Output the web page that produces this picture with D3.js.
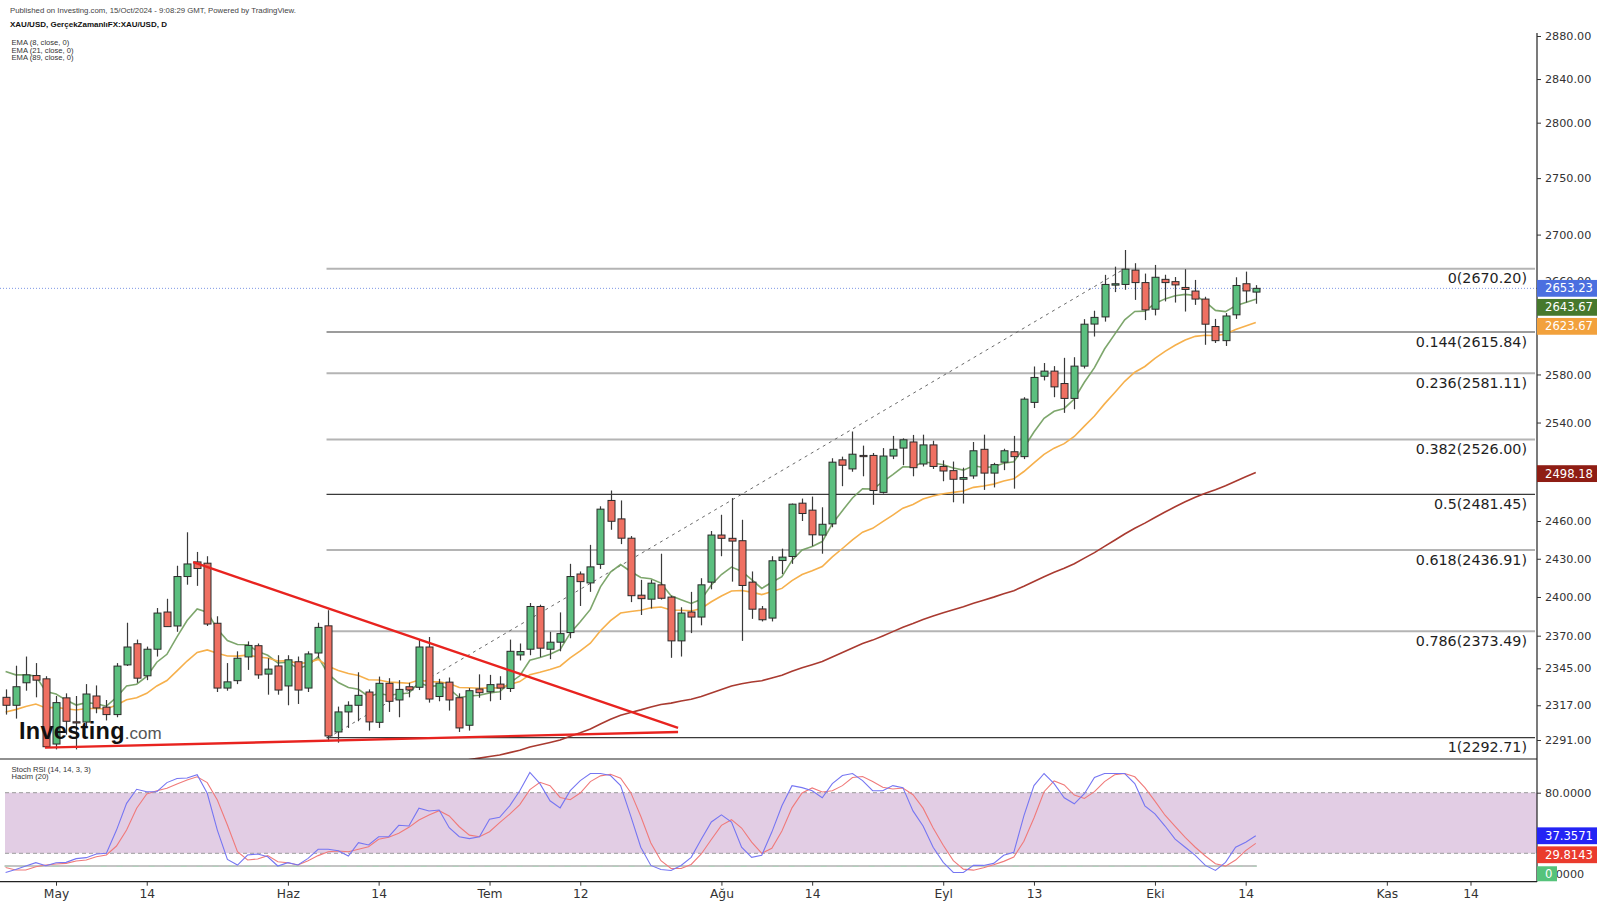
<!DOCTYPE html>
<html><head><meta charset="utf-8">
<script src="https://cdn.jsdelivr.net/npm/d3@7"></script>
<style>body{margin:0;background:#fff}svg{display:block}</style>
</head><body>
<svg id="c" width="1600" height="906"></svg>
<script>
// ---------------- DATA ----------------
const opens = [2323,2317,2334,2339.5,2337,2288,2322.6,2304.6,2304.4,2324,2315.6,2310,2347.6,2363.8,2339.3,2359.6,2388.3,2377.5,2416,2427.5,2426.5,2379.6,2330,2335.6,2353.7,2362.3,2340.6,2346.8,2331.6,2350,2330,2356.7,2377.6,2297,2312,2317,2327,2304.2,2333.6,2321,2331,2330.6,2361.3,2323.6,2334.5,2322.7,2302,2329.3,2327.2,2333,2329.7,2355.2,2359.6,2392.6,2359.6,2365,2372.4,2418,2411,2425.6,2476.5,2461.7,2446.3,2401.4,2398.3,2409.5,2399.9,2366,2388.3,2384.4,2411.6,2448.8,2446.2,2444.3,2411.6,2390.7,2383.6,2428.6,2431.8,2474.3,2468.7,2448.8,2457.7,2509.4,2502,2513,2513,2483,2512.5,2519,2524,2506,2521.6,2504,2500.6,2493.6,2496.3,2518,2498.6,2507.5,2516,2512,2556.7,2578.5,2582.8,2572.4,2560,2587,2622.6,2628.7,2656,2656.6,2669,2658.2,2635.3,2661,2659,2654,2650.9,2644,2620.5,2608.5,2630.5,2657.2,2650];
const highs = [2329,2347,2354,2349,2339,2324,2326,2324,2333,2332,2321,2349,2380,2367,2361.6,2391.4,2398.6,2424.5,2451,2435.4,2432,2385,2349,2358,2365.6,2364,2352.7,2355,2355,2354,2358,2380,2389.7,2316,2320,2342,2329,2338.7,2337.5,2336,2334,2367,2369,2337,2338,2326,2330,2340.4,2340,2339,2367,2364,2395.3,2394,2373,2388,2426,2420,2441,2471.8,2484.5,2476.5,2448,2413.4,2413.4,2434,2401,2392,2404,2414.7,2452,2465,2478.4,2461,2420,2393,2432,2438,2474,2478,2479.6,2471,2510.7,2512,2532.6,2521,2515,2519,2529,2527,2529.8,2530,2525,2509,2508,2503,2524,2530,2507,2518.5,2529,2561,2586.7,2589.6,2587,2594,2594.5,2626.8,2634,2664.9,2672,2686.5,2675,2666,2673.5,2665,2663,2669.8,2660.5,2646,2627,2632,2662.8,2667.7,2656];
const lows = [2310,2307,2328,2323,2285,2284,2295,2284,2300,2311,2305.6,2308,2346.8,2334,2336,2354,2377,2373,2409.6,2408.7,2377.5,2327,2328,2333,2343.8,2337,2325,2325,2317,2318,2327,2353,2290,2289,2300,2305,2298,2300,2312,2308,2323,2328.5,2319,2320,2313,2297,2298,2322.7,2320,2321,2327,2351,2355,2353.5,2352,2358,2368,2393,2404,2422,2453,2441.6,2396,2386,2391,2398,2353,2354,2372,2378,2406,2432,2412,2366,2383,2381,2381,2418,2426,2460,2440,2434,2455,2488,2499.7,2496,2473,2482,2510,2505,2496,2504,2502,2492,2475,2474,2494,2485,2487,2501,2486,2510,2552,2575,2561,2548,2551,2585,2612,2624.7,2650,2652,2643.3,2626,2630,2642,2641,2633.3,2639,2605,2606.5,2604,2627,2641,2640];
const closes = [2317,2331,2340,2336,2286,2319,2305,2304,2325.5,2315,2310,2346.7,2361.3,2337.5,2359.6,2387.5,2377,2416,2425.9,2422.3,2379,2330,2334.7,2352.7,2362.5,2340,2344.4,2328.5,2351.5,2328.5,2356,2376.4,2294,2312,2317,2324.5,2304.5,2333.6,2320,2329,2328.6,2361.3,2321.7,2333.7,2321,2300,2328,2326.5,2332.6,2330,2358,2357.8,2392.6,2360.4,2365,2371.6,2416,2412,2423.6,2469.5,2459.8,2446.3,2401,2398.7,2410.8,2399,2366,2387.5,2384.4,2409.5,2448.8,2446.2,2444,2409,2390.5,2382.3,2428.4,2431.3,2473.5,2466,2449,2457.4,2507.5,2505,2514,2512,2484.5,2512.5,2518,2525.8,2503,2521.6,2504,2500.3,2493.6,2495,2516.8,2498.6,2505.5,2516.8,2512,2559.4,2577.5,2582.8,2569.6,2560,2587,2622.5,2628.3,2656.6,2657.2,2669.8,2658.2,2634.7,2662.8,2658.2,2656.2,2652.3,2644,2622.5,2608.5,2629.5,2655.7,2651,2653.23];

// EMA periods and their values at the first visible bar
const emaPeriods = [8, 21, 89];
const emaSeeds = [2342.6, 2312, 2165];
const emaColors = ["#6f9c5c", "#f6b04c", "#a93a30"];

// Stoch RSI (14,14,3,3): %K and %D
const stochK = [1,4,7.4,10.7,7.7,10.7,11,14.7,15.7,19.3,20,43,69.5,83.4,81,81,90,94,94.5,97.8,79.4,43,14,8.4,18.3,19.3,16.6,7.4,10.7,8.4,15,24,24,22.6,17.3,30.5,28.2,36.4,36.4,47.7,47,64.6,61.9,62.9,45.3,36.4,34.5,36.4,53.7,55.6,
  67,82,100,89,72,65,82,92,99,99,97,87,57,26,8,4,3,8,16,34,51,58,51,26,16,18,41,67,87,85,82,75,89,97,99,92,82,82,87,85,62,47,26,11,1,1,8,8,10,18,21,57,87,99,89,75,69,79,95,99,99,99,89,67,59,47,34,26,18,8,3,11,26,31,37.36];
const stochD = [6,3.5,3.5,6.7,8.4,9.4,10,12.4,13.4,16.6,18.3,27.2,43,64.6,78.7,82,84.4,88.6,92.6,95.8,90,72.8,48,21.6,13.4,14.4,17.7,11.7,10.7,8.4,12.7,17.7,21.6,22.3,21.6,24,26.5,33.9,35.8,39.8,45.7,53,57.9,62.2,57,46.3,38,36.4,41.4,50.3,
  58.8,68.2,83,90.3,87,75.3,73,79.7,91,96.7,98.3,94.3,80.3,56.7,30.3,12.7,5,5,9,19.3,33.7,47.7,53.3,45,31,20,25,42,65,79.7,84.7,80.7,82,87,95,96,91,85.3,83.7,84.7,78,64.7,45,28,12.7,4.3,3.3,5.7,8.7,12,16.3,32,55,81,91.7,87.7,77.7,74.3,81,91,97.7,99,95.7,85,71.7,57.7,46.7,35.7,26,17.3,9.7,7.3,13.3,22.7,29.81];

// Fibonacci retracement
const fibRatios = [0, 0.144, 0.236, 0.382, 0.5, 0.618, 0.786, 1];
const fibValues = [2670.20, 2615.84, 2581.11, 2526.00, 2481.45, 2436.91, 2373.49, 2292.71];
const fibLabels = ["0(2670.20)","0.144(2615.84)","0.236(2581.11)","0.382(2526.00)","0.5(2481.45)","0.618(2436.91)","0.786(2373.49)","1(2292.71)"];
const fibStartIndex = 32;
const fibAnchor = [[32, 2292.71], [111, 2670.20]];

// triangle trendlines [barIndex, price]
const trendTop = [[18.6, 2427.3], [66.7, 2300]];
const trendBottom = [[3.9, 2285.3], [66.7, 2297]];

// axes
const priceTicks = [2880,2840,2800,2750,2700,2660,2620,2580,2540,2500,2460,2430,2400,2370,2345,2317,2291];
const stochTicks = [80, 20, 0];
const xTickIndex = [5,14,28,37,48,57,71,80,93,102,114,123,137,145.3];
const xTickLabels = ["May","14","Haz","14","Tem","12","Ağu","14","Eyl","13","Eki","14","Kas","14"];

const lastPrice = 2653.23;
const priceBadges = [
  {text:"2653.23", value:2653.23, color:"#4b6fe0"},
  {text:"2643.67", value:2643.67, color:"#46782c"},
  {text:"2623.67", value:2623.67, color:"#f2a13c"},
  {text:"2498.18", value:2498.18, color:"#8e1d14"}
];
const stochBadges = [
  {text:"37.3571", value:37.3571, color:"#2424f5"},
  {text:"29.8143", value:29.8143, color:"#ea3b2d"}
];

// trading days (categories)
const dates = [];
for (let d = new Date(Date.UTC(2024,3,24)); dates.length < closes.length; d.setUTCDate(d.getUTCDate()+1)) {
  const wd = d.getUTCDay(); if (wd !== 0 && wd !== 6) dates.push(d.toISOString().slice(0,10));
}
const bars = dates.map((dt,i)=>({i, date:dt, o:opens[i], h:highs[i], l:lows[i], c:closes[i]}));

// ---------------- LAYOUT ----------------
const svg = d3.select("#c");
const AX = 1537;           // price axis x
const MAIN_BOTTOM = 759;
const STOCH_BOTTOM = 881.7;
const FONT = "'DejaVu Sans', Verdana, sans-serif";
const FONT2 = "'Liberation Sans', Arial, sans-serif";

const x = d3.scaleLinear().domain([0, 137]).range([5.6, 5.6 + 137*10.082]);
const y = d3.scaleLog().domain([2291, 2880]).range([740, 36]);
const ys = d3.scaleLinear().domain([0, 100]).range([873.5, 772.5]);

svg.append("rect").attr("width",1600).attr("height",906).attr("fill","#fff");

const defs = svg.append("defs");
defs.append("clipPath").attr("id","mainClip").append("rect").attr("x",0).attr("y",0).attr("width",AX).attr("height",MAIN_BOTTOM);
defs.append("clipPath").attr("id","stClip").append("rect").attr("x",0).attr("y",MAIN_BOTTOM+1).attr("width",AX).attr("height",STOCH_BOTTOM-MAIN_BOTTOM-1);

const main = svg.append("g").attr("clip-path","url(#mainClip)");

// last price dotted line
main.append("line").attr("x1",0).attr("x2",AX).attr("y1",y(lastPrice)).attr("y2",y(lastPrice))
  .attr("stroke","#7d97e6").attr("stroke-width",1).attr("stroke-dasharray","1,2");

// fib lines
const darkLevels = [0.144, 0.5, 1];
fibRatios.forEach((r,k)=>{
  const dark = darkLevels.includes(r);
  const yy = y(fibValues[k]);
  main.append("line").attr("x1",x(fibStartIndex)-1.7).attr("x2",1535).attr("y1",yy).attr("y2",yy)
    .attr("stroke", dark ? "#3a3a3a" : "#b4b4b4").attr("stroke-width", dark ? 1.2 : 2);
  main.append("text").attr("x",1527).attr("y",yy+14.5).attr("text-anchor","end")
    .attr("font-family",FONT).attr("font-size",14.3).attr("fill","#1e1e1e").text(fibLabels[k]);
});

// fib anchor dashed line
main.append("line").attr("x1",x(fibAnchor[0][0])).attr("y1",y(fibAnchor[0][1]))
  .attr("x2",x(fibAnchor[1][0])).attr("y2",y(fibAnchor[1][1]))
  .attr("stroke","#6a6a6a").attr("stroke-width",1).attr("stroke-dasharray","3,4");

// EMAs
function ema(vals, period, seed){
  const a = 2/(period+1); const out=[seed];
  for (let i=1;i<vals.length;i++) out.push(a*vals[i] + (1-a)*out[i-1]);
  return out;
}
const emaLine = d3.line().x((d,i)=>x(i)).y(d=>y(d));
emaPeriods.forEach((p,k)=>{
  const vals = ema(closes, p, emaSeeds[k]);
  main.append("path").attr("d", emaLine(vals)).attr("fill","none")
    .attr("stroke", emaColors[k]).attr("stroke-width", 1.6).attr("opacity", k===0?0.9:1);
});

// candles
const up = "#5bbf7f", down = "#ef7062";
const cg = main.append("g");
bars.forEach(b=>{
  const cx = Math.round(x(b.i)) + 0.5;
  const isUp = b.c >= b.o;
  cg.append("line").attr("x1",cx).attr("x2",cx).attr("y1",y(b.h)).attr("y2",y(b.l))
    .attr("stroke","#3a3a3a").attr("stroke-width",1.2);
  const top = y(Math.max(b.o,b.c)), bot = y(Math.min(b.o,b.c));
  cg.append("rect").attr("x",cx-3.5).attr("y",top).attr("width",7).attr("height",Math.max(1.2, bot-top))
    .attr("fill", isUp?up:down).attr("stroke","#2a2a2a").attr("stroke-width",1);
});

// triangle trendlines
[trendTop, trendBottom].forEach(t=>{
  main.append("line").attr("x1",x(t[0][0])).attr("y1",y(t[0][1])).attr("x2",x(t[1][0])).attr("y2",y(t[1][1]))
    .attr("stroke","#e8231f").attr("stroke-width",2.4);
});

// watermark
const wm = svg.append("text").attr("x",19).attr("y",738.5).attr("font-family",FONT2);
wm.append("tspan").attr("font-size",23.5).attr("font-weight","bold").attr("fill","#111").attr("letter-spacing","0.3").text("Investing");
wm.append("tspan").attr("font-size",17).attr("fill","#555").text(".com");

// header texts
svg.append("text").attr("x",10).attr("y",12.5).attr("font-family",FONT2).attr("font-size",7.8).attr("fill","#444")
  .text("Published on Investing.com, 15/Oct/2024 - 9:08:29 GMT, Powered by TradingView.");
svg.append("text").attr("x",10).attr("y",26.5).attr("font-family",FONT2).attr("font-size",8).attr("font-weight","bold").attr("fill","#111")
  .text("XAU/USD, GerçekZamanlıFX:XAU/USD, D");
["EMA (8, close, 0)","EMA (21, close, 0)","EMA (89, close, 0)"].forEach((t,k)=>{
  svg.append("text").attr("x",11.5).attr("y",44.8+k*7.7).attr("font-family",FONT2).attr("font-size",7.6).attr("fill","#333").text(t);
});

// ---------------- STOCH PANE ----------------
const st = svg.append("g").attr("clip-path","url(#stClip)");
st.append("rect").attr("x",5).attr("width",AX-5).attr("y",ys(80)).attr("height",ys(20)-ys(80)).attr("fill","#e2cde4");
[80,20].forEach(v=>{
  st.append("line").attr("x1",5).attr("x2",AX).attr("y1",ys(v)).attr("y2",ys(v))
    .attr("stroke","#9b9b9b").attr("stroke-width",1).attr("stroke-dasharray","4,3");
});
// volume (Hacim) zero line
st.append("line").attr("x1",x(0)-1).attr("x2",x(closes.length-1)+1).attr("y1",866).attr("y2",866)
  .attr("stroke","#c4c4c4").attr("stroke-width",2);
st.append("line").attr("x1",x(0)-1).attr("x2",x(closes.length-1)+1).attr("y1",866.3).attr("y2",866.3)
  .attr("stroke","#9fdcb4").attr("stroke-width",0.8).attr("stroke-dasharray","6,10").attr("opacity",0.7);

const sLine = d3.line().x((d,i)=>x(i)).y(d=>ys(d));
st.append("path").attr("d",sLine(stochD)).attr("fill","none").attr("stroke","#f07a7a").attr("stroke-width",1.1);
st.append("path").attr("d",sLine(stochK)).attr("fill","none").attr("stroke","#7676f2").attr("stroke-width",1.1);

svg.append("text").attr("x",11.5).attr("y",771.5).attr("font-family",FONT2).attr("font-size",7.6).attr("fill","#333").text("Stoch RSI (14, 14, 3, 3)");
svg.append("text").attr("x",11.5).attr("y",779.2).attr("font-family",FONT2).attr("font-size",7.6).attr("fill","#333").text("Hacim (20)");

// pane borders
svg.append("line").attr("x1",0).attr("x2",AX).attr("y1",MAIN_BOTTOM).attr("y2",MAIN_BOTTOM).attr("stroke","#222").attr("stroke-width",1.2);
svg.append("line").attr("x1",0).attr("x2",AX).attr("y1",STOCH_BOTTOM).attr("y2",STOCH_BOTTOM).attr("stroke","#222").attr("stroke-width",1.2);
svg.append("line").attr("x1",AX).attr("x2",AX).attr("y1",33).attr("y2",STOCH_BOTTOM).attr("stroke","#222").attr("stroke-width",1.2);

// ---------------- AXES ----------------
const pAxis = svg.append("g").attr("transform",`translate(${AX},0)`)
  .call(d3.axisRight(y).tickValues(priceTicks).tickFormat(d3.format(".2f")).tickSize(4).tickPadding(4));
const sAxis = svg.append("g").attr("transform",`translate(${AX},0)`)
  .call(d3.axisRight(ys).tickValues(stochTicks).tickFormat(d3.format(".4f")).tickSize(4).tickPadding(4));
const xAxis = svg.append("g").attr("transform",`translate(0,${STOCH_BOTTOM})`)
  .call(d3.axisBottom(x).tickValues(xTickIndex).tickFormat((d,i)=>xTickLabels[i]).tickSize(4).tickPadding(4));
[pAxis,sAxis,xAxis].forEach(g=>{
  g.select(".domain").remove();
  g.selectAll(".tick line").attr("stroke","#333");
  g.selectAll(".tick text").attr("fill","#333").attr("font-family",FONT);
});
pAxis.selectAll(".tick text").attr("font-size",11.2);
sAxis.selectAll(".tick text").attr("font-size",11.2);
xAxis.selectAll(".tick text").attr("font-size",12.3);

// ---------------- BADGES ----------------
function drawBadges(list, scale, w){
  let prev = -1e9;
  list.forEach(b=>{
    let cy = Math.max(scale(b.value), prev + 19);
    prev = cy;
    svg.append("rect").attr("x",AX).attr("y",cy-8.4).attr("width",w).attr("height",16.8).attr("fill",b.color);
    svg.append("text").attr("x",AX+8).attr("y",cy+4).attr("font-family",FONT).attr("font-size",11.6)
      .attr("fill","#fff").text(b.text);
  });
  return prev;
}
drawBadges(priceBadges.slice(0,3), y, 60);
drawBadges(priceBadges.slice(3), y, 60);
const lastSt = drawBadges(stochBadges, ys, 60);
// volume badge "0"
const vy = Math.max(873, lastSt + 19);
svg.append("rect").attr("x",AX).attr("y",vy-7.5).attr("width",20).attr("height",15).attr("fill","#55c37b");
svg.append("text").attr("x",AX+8).attr("y",vy+4).attr("font-family",FONT).attr("font-size",11.6).attr("fill","#fff").text("0");
</script></body></html>
